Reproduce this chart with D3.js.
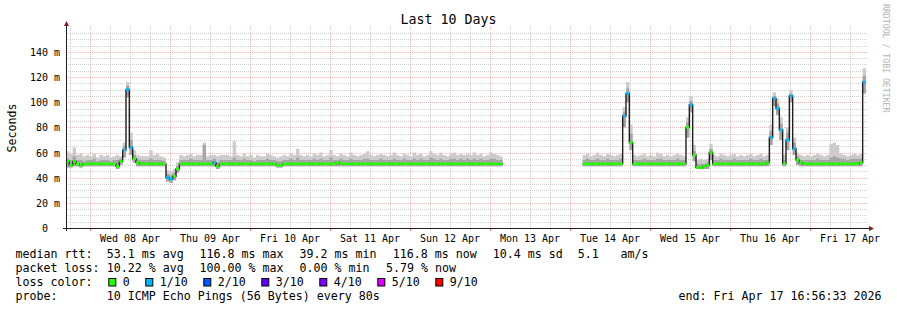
<!DOCTYPE html>
<html>
<head>
<meta charset="utf-8">
<script src="https://cdn.jsdelivr.net/npm/d3@7"></script>
<style>
body { margin: 0; background: #fff; }
svg { display: block; font-family: "DejaVu Sans Mono", monospace; }
text { white-space: pre; }
</style>
</head>
<body>
<div id="viz"></div>
<script>
const width = 897
const height = 310
const plot = {left: 66, right: 866, top: 28, bottom: 228}
const yMax = 159

// data: one step per hour, starting at the graph start time
const startTime = new Date(2026, 3, 7, 16, 56, 33)
const endTime = new Date(2026, 3, 17, 16, 56, 33)
const N = null

// median rtt in ms
const median = [
  53,50,53,51,50,51,51,51,51,51,51,51,51,51,51,49,53,62,110,64,55,52,51,51,
  51,51,51,51,51,51,40,39,41,47,51,51,51,51,51,51,51,51,51,51,52,49,51,51,
  51,51,51,51,51,51,51,51,51,51,51,51,51,51,51,50,50,51,51,51,51,51,51,51,
  51,51,51,51,51,51,51,51,51,52,51,51,51,51,51,51,51,51,51,51,51,51,51,51,
  51,51,51,51,51,51,51,51,51,51,51,51,51,51,51,51,51,51,51,51,51,51,51,51,
  51,51,51,51,51,51,51,51,51,51,51,N,N,N,N,N,N,N,N,N,N,N,N,N,
  N,N,N,N,N,N,N,N,N,N,N,51,51,51,51,51,51,51,51,51,51,51,51,89,
  107,68,51,51,51,51,51,51,51,51,51,51,51,51,51,51,51,51,80,98,58,48,48,49,
  50,60,51,51,51,51,51,51,51,51,51,51,51,51,51,51,51,51,52,72,103,95,78,51,
  70,105,63,54,52,51,51,51,51,51,51,51,51,51,51,51,51,51,51,51,51,51,52,116
]

// lost pings out of 10
const loss = [
  0,0,0,0,0,0,0,0,0,0,0,0,0,0,0,0,0,1,1,1,0,0,0,0,
  0,0,0,0,0,0,1,1,0,0,0,0,0,0,0,0,0,0,0,0,1,0,0,0,
  0,0,0,0,0,0,0,0,0,0,0,0,0,0,0,0,0,0,0,0,0,0,0,0,
  0,0,0,0,0,0,0,0,0,0,0,0,0,0,0,0,0,0,0,0,0,0,0,0,
  0,0,0,0,0,0,0,0,0,0,0,0,0,0,0,0,0,0,0,0,0,0,0,0,
  0,0,0,0,0,0,0,0,0,0,0,N,N,N,N,N,N,N,N,N,N,N,N,N,
  N,N,N,N,N,N,N,N,N,N,N,0,0,0,0,0,0,0,0,0,0,0,0,1,
  1,0,0,0,0,0,0,0,0,0,0,0,0,0,0,0,0,0,0,1,0,0,0,0,
  0,0,0,0,0,0,0,0,0,0,0,0,0,0,0,0,0,0,0,1,1,1,1,0,
  1,1,1,0,0,0,0,0,0,0,0,0,0,0,0,0,0,0,0,0,0,0,0,1
]

// smoke: fastest ping, upper middle ping, slowest ping (ms)
const pingMin = [
  48,48,49,49,48,49,49,49,49,49,49,49,49,49,49,47,50,56,104,58,52,49,49,49,
  49,49,49,49,49,49,37,36,38,44,49,49,49,49,49,49,49,49,49,49,49,47,49,49,
  49,49,49,49,49,49,49,49,49,49,49,49,49,49,49,48,48,49,49,49,49,49,49,49,
  49,49,49,49,49,49,49,49,49,49,49,49,49,49,49,49,49,49,49,49,49,49,49,49,
  49,49,49,49,49,49,49,49,49,49,49,49,49,49,49,49,49,49,49,49,49,49,49,49,
  49,49,49,49,49,49,49,49,49,49,49,N,N,N,N,N,N,N,N,N,N,N,N,N,
  N,N,N,N,N,N,N,N,N,N,N,49,49,49,49,49,49,49,49,49,49,49,49,80,
  100,62,49,49,49,49,49,49,49,49,49,49,49,49,49,49,49,49,72,92,53,47,47,47,
  47,54,49,49,49,49,49,49,49,49,49,49,49,49,49,49,49,49,49,66,97,90,70,49,
  62,100,58,50,49,49,49,49,49,49,49,49,49,49,49,49,49,49,49,49,49,49,49,107
]
const pingMid = [
  55,54,57,54,54,53,54,54,55,53,54,54,54,53,54,54,55,65,113,70,58,55,54,54,
  54,55,54,54,54,53,43,42,44,49,54,54,54,55,54,54,54,66,54,54,55,52,54,54,
  54,54,56,54,54,55,54,54,53,54,54,54,55,54,54,53,53,54,54,55,54,56,54,54,
  54,54,55,54,55,54,54,56,54,54,55,54,54,55,54,54,54,55,55,54,54,54,55,54,
  54,54,55,54,54,55,54,54,55,54,55,54,54,56,55,54,55,54,54,55,55,54,55,54,
  55,54,55,54,55,54,54,55,55,54,54,N,N,N,N,N,N,N,N,N,N,N,N,N,
  N,N,N,N,N,N,N,N,N,N,N,54,55,54,54,55,54,54,55,54,54,54,55,92,
  111,75,54,54,54,55,54,54,54,55,55,54,54,54,54,55,54,54,84,101,61,51,51,51,
  52,63,54,54,55,54,54,54,55,54,54,54,54,55,54,54,55,54,54,77,105,99,83,54,
  76,107,68,57,54,54,54,54,54,55,54,54,54,56,57,56,55,55,54,55,55,55,55,121
]
const pingMax = [
  61,59,64,58,59,57,58,57,59,56,58,57,58,56,57,58,57,68,116,76,62,58,57,57,
  57,62,58,59,57,56,46,45,47,52,58,57,58,59,57,58,58,68,57,58,58,57,58,58,
  58,57,69,58,57,59,57,58,56,58,57,57,59,58,57,56,57,58,57,59,58,63,58,57,
  58,57,59,58,60,57,58,62,58,57,59,58,57,60,58,57,58,59,61,58,57,58,59,58,
  57,58,60,58,57,59,58,57,60,58,59,57,58,61,59,58,60,58,57,59,60,58,59,58,
  59,58,60,58,59,57,58,60,59,58,57,N,N,N,N,N,N,N,N,N,N,N,N,N,
  N,N,N,N,N,N,N,N,N,N,N,58,59,57,58,60,58,57,59,58,57,58,59,96,
  116,82,58,57,58,59,57,58,57,60,59,57,58,57,58,59,58,57,88,105,66,54,55,54,
  55,67,58,57,59,58,57,58,59,57,58,57,58,59,57,58,59,57,58,82,108,103,88,58,
  80,110,72,60,58,57,58,57,58,59,58,57,58,67,68,66,59,58,57,58,59,58,59,127
]

const yTicks = [0, 20, 40, 60, 80, 100, 120, 140]
const lossLevels = [0, 1, 2, 3, 4, 5, 9]
const lossLabels = ["0", "1/10", "2/10", "3/10", "4/10", "5/10", "9/10"]
const lossColors = ["#26ff00", "#00b8ff", "#0059ff", "#5e00ff", "#7e00ff", "#dd00ff", "#ff0000"]

const title = "Last 10 Days"
const rttStats = ["median rtt:", "53.1 ms avg", "116.8 ms max", "39.2 ms min", "116.8 ms now", "10.4 ms sd", "5.1", "am/s"]
const lossStats = ["packet loss:", "10.22 % avg", "100.00 % max", "0.00 % min", "5.79 % now"]
const probeText = ["probe:", "10 ICMP Echo Pings (56 Bytes) every 80s"]
const endText = "end: Fri Apr 17 16:56:33 2026"

const charW = 7.0
const legendFont = 11.63

const svg = d3.select("#viz").append("svg")
  .attr("width", width)
  .attr("height", height)

const x = d3.scaleTime().domain([startTime, endTime]).range([plot.left, plot.right])
const y = d3.scaleLinear().domain([0, yMax]).range([plot.bottom, plot.top])
const crisp = v => Math.round(v) + 0.5

// grid
const gridMinor = "rgba(143,143,143,0.42)"
const gridMajor = "rgba(222,79,79,0.38)"
const hLines = d3.range(5, yMax, 5)
svg.append("g").selectAll("line")
  .data(hLines).join("line")
  .attr("x1", plot.left).attr("x2", plot.right + 2)
  .attr("y1", d => crisp(y(d))).attr("y2", d => crisp(y(d)))
  .attr("stroke", d => d % 20 === 0 ? gridMajor : gridMinor)
  .attr("stroke-dasharray", "1,1")

const vLines = d3.timeHour.every(6).range(startTime, endTime)
svg.append("g").selectAll("line")
  .data(vLines).join("line")
  .attr("x1", d => crisp(x(d))).attr("x2", d => crisp(x(d)))
  .attr("y1", plot.top - 2).attr("y2", plot.bottom)
  .attr("stroke", d => d.getHours() === 0 ? gridMajor : gridMinor)
  .attr("stroke-dasharray", "1,1")
// ticks under the time axis
svg.append("g").selectAll("line")
  .data(vLines).join("line")
  .attr("x1", d => crisp(x(d))).attr("x2", d => crisp(x(d)))
  .attr("y1", plot.bottom).attr("y2", d => plot.bottom + (d.getHours() === 0 ? 3 : 2))
  .attr("stroke", d => d.getHours() === 0 ? "rgba(222,79,79,0.7)" : gridMinor)

// one record per step
const steps = median.map((m, i) => ({
  t0: d3.timeHour.offset(startTime, i),
  t1: d3.timeHour.offset(startTime, i + 1),
  median: m, loss: loss[i], min: pingMin[i], mid: pingMid[i], max: pingMax[i]
}))
// rrdtool style staircase: each step holds its value over the hour
const stairs = steps.flatMap(d => [Object.assign({t: d.t0}, d), Object.assign({t: d.t1}, d)])

const smoke = (lo, hi) => d3.area()
  .defined(d => d.median != null)
  .x(d => x(d.t))
  .y0(d => y(d[lo]))
  .y1(d => y(d[hi]))

svg.append("path").datum(stairs)
  .attr("d", smoke("min", "max"))
  .attr("fill", "#cccccc")
svg.append("path").datum(stairs)
  .attr("d", smoke("min", "mid"))
  .attr("fill", "#a6a6a6")

svg.append("path").datum(stairs)
  .attr("d", d3.line().defined(d => d.median != null).x(d => x(d.t)).y(d => y(d.median)))
  .attr("fill", "none")
  .attr("stroke", "#202020")
  .attr("stroke-width", 1.4)

const lossColor = l => lossColors[lossLevels.findIndex(v => v >= l)]
const band = 1.3
svg.append("g").selectAll("rect")
  .data(steps.filter(d => d.median != null))
  .join("rect")
  .attr("x", d => x(d.t0))
  .attr("width", d => x(d.t1) - x(d.t0))
  .attr("y", d => y(d.median) - band)
  .attr("height", band * 2)
  .attr("fill", d => lossColor(d.loss))

// axes
svg.append("line")
  .attr("x1", plot.left + 0.5).attr("x2", plot.left + 0.5)
  .attr("y1", plot.bottom + 3).attr("y2", plot.top - 2)
  .attr("stroke", "#1f1f1f")
svg.append("line")
  .attr("x1", plot.left - 3).attr("x2", plot.right + 3)
  .attr("y1", plot.bottom + 0.5).attr("y2", plot.bottom + 0.5)
  .attr("stroke", "#1f1f1f")
svg.append("path")
  .attr("d", `M${plot.left + 0.5},${plot.top - 7}L${plot.left - 2},${plot.top - 2}L${plot.left + 3},${plot.top - 2}Z`)
  .attr("fill", "#801f1f")
svg.append("path")
  .attr("d", `M${plot.right + 8},${plot.bottom + 0.5}L${plot.right + 3},${plot.bottom - 2}L${plot.right + 3},${plot.bottom + 3}Z`)
  .attr("fill", "#801f1f")

const yAxisG = svg.append("g")
  .attr("transform", "translate(60,0)")
  .call(d3.axisLeft(y).tickValues(yTicks).tickSize(0).tickPadding(0)
    .tickFormat(d => d === 0 ? "0  " : d + " m"))
yAxisG.select(".domain").remove()
yAxisG.attr("font-family", null).attr("font-size", null)
yAxisG.selectAll("text").attr("x", 0).attr("dy", "0.36em")
  .style("font-size", "10px").attr("fill", "#000")

const labelDays = d3.timeDay.range(d3.timeDay.ceil(startTime), endTime).map(d => d3.timeHour.offset(d, 12))
const xAxisG = svg.append("g")
  .attr("transform", `translate(0,${plot.bottom + 13.5})`)
  .call(d3.axisBottom(x).tickValues(labelDays).tickSize(0).tickPadding(0)
    .tickFormat(d3.timeFormat("%a %d %b")))
xAxisG.select(".domain").remove()
xAxisG.attr("font-family", null).attr("font-size", null)
xAxisG.selectAll("text").attr("y", 0).attr("dy", null)
  .style("font-size", "10px").attr("fill", "#000")

// title and side labels
svg.append("text")
  .text(title)
  .attr("x", width / 2)
  .attr("y", 24)
  .attr("text-anchor", "middle")
  .style("font-size", "13.3px")

svg.append("text")
  .text("Seconds")
  .attr("transform", `translate(16,${(plot.top + plot.bottom) / 2}) rotate(-90)`)
  .attr("text-anchor", "middle")
  .style("font-size", legendFont + "px")

svg.append("text")
  .text("RRDTOOL / TOBI OETIKER")
  .attr("transform", "translate(883,4) rotate(90)")
  .style("font-size", "8.2px")
  .attr("fill", "#b4b4b4")

// legend
const legendText = (items, cols, yPos) => {
  svg.append("g").selectAll("text")
    .data(items).join("text")
    .text(d => d)
    .attr("x", (d, i) => cols[i])
    .attr("y", yPos)
    .style("font-size", legendFont + "px")
}
legendText(rttStats, [15.4, 106.7, 199.4, 299.4, 392.7, 492.7, 577.7, 620.4], 258)
legendText(lossStats, [15.4, 106.7, 199.4, 299.4, 386.1], 272)
legendText(["loss color:"], [15.4], 286)
legendText(probeText, [15.4, 106.7], 300)
svg.append("text")
  .text(endText)
  .attr("x", 881.5)
  .attr("y", 300)
  .attr("text-anchor", "end")
  .style("font-size", legendFont + "px")

let cursor = 108.3
lossLabels.forEach((label, i) => {
  svg.append("rect")
    .attr("x", cursor + 0.5).attr("y", 278.5)
    .attr("width", 7).attr("height", 7.5)
    .attr("fill", lossColors[i])
    .attr("stroke", "#000")
  svg.append("text")
    .text(label)
    .attr("x", cursor + 14.4)
    .attr("y", 286)
    .style("font-size", legendFont + "px")
  cursor += 15 + label.length * charW + 15
})
</script>
</body>
</html>
